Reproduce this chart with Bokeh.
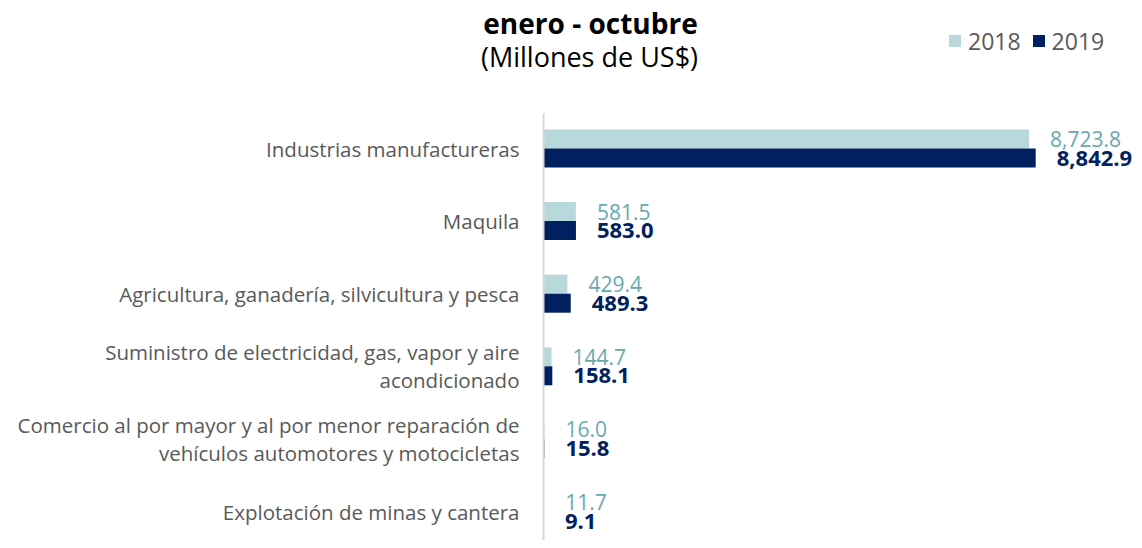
from bokeh.plotting import figure
from bokeh.models import ColumnDataSource, Range1d, FixedTicker, Legend, LegendItem, Label
from bokeh.transform import dodge
from bokeh.embed import file_html
from bokeh.resources import INLINE
from bokeh.core.properties import value

categories = [
    "Industrias manufactureras",
    "Maquila",
    "Agricultura, ganadería, silvicultura y pesca",
    "Suministro de electricidad, gas, vapor y aire\nacondicionado",
    "Comercio al por mayor y al por menor reparación de\nvehículos automotores y motocicletas",
    "Explotación de minas y cantera",
]
v2018 = [8723.8, 581.5, 429.4, 144.7, 16.0, 11.7]
v2019 = [8842.9, 583.0, 489.3, 158.1, 15.8, 9.1]
series_names = ["2018", "2019"]
title_text = "enero - octubre"
subtitle_text = "(Millones de US$)"

C18 = "#b9d8dc"
C19 = "#002060"
T18 = "#6aa8b0"
FONT = "Open Sans"

pos = list(range(len(categories) - 1, -1, -1))
src = ColumnDataSource(dict(
    y=pos, v18=v2018, v19=v2019,
    t18=[f"{v:,.1f}" for v in v2018],
    t19=[f"{v:,.1f}" for v in v2019],
))

Y_TOP = 7.0386
Y_BOT = -0.3994
X_MIN = -9756
X_MAX = 10618
p = figure(width=1134, height=540, output_backend="svg", toolbar_location=None,
           x_range=Range1d(X_MIN, X_MAX), y_range=Range1d(Y_BOT, Y_TOP),
           x_axis_location=None, min_border_left=0, min_border_right=0,
           min_border_top=0, min_border_bottom=0, outline_line_color=None)
p.grid.visible = False

off = 0.1309
bh = 0.2617
r18 = p.hbar(y=dodge("y", off, range=p.y_range), left=0, right="v18", height=bh,
             fill_color=C18, line_color=None, source=src)
r19 = p.hbar(y=dodge("y", -off, range=p.y_range), left=0, right="v19", height=bh,
             fill_color=C19, line_color=None, source=src)

p.text(x="v18", y=dodge("y", off, range=p.y_range), text="t18", source=src,
       x_offset=21, text_baseline="middle", text_align="left",
       text_font=value(FONT), text_font_size="21px", text_color=T18)
p.text(x="v19", y=dodge("y", -off, range=p.y_range), text="t19", source=src,
       x_offset=21, text_baseline="middle", text_align="left",
       text_font=value(FONT), text_font_size="22px", text_font_style="bold", text_color=C19)

ax = p.yaxis[0]
ax.fixed_location = 0
ax.ticker = FixedTicker(ticks=pos)
ax.bounds = (Y_BOT, 5.482)
ax.major_label_overrides = {pp: c for pp, c in zip(pos, categories)}
ax.major_tick_line_color = None
ax.minor_tick_line_color = None
ax.axis_line_color = "#d9d9d9"
ax.axis_line_width = 2
ax.major_label_text_font = FONT
ax.major_label_text_font_size = "20.5px"
ax.major_label_text_line_height = 1.0
ax.major_label_text_color = "#595959"
ax.major_label_standoff = 18

legend = Legend(items=[LegendItem(label=series_names[0], renderers=[r18]),
                       LegendItem(label=series_names[1], renderers=[r19])],
                location=(947, 483.2), orientation="horizontal",
                border_line_color=None, background_fill_alpha=0,
                padding=0, margin=0, spacing=10, glyph_width=15, glyph_height=15,
                label_standoff=6, label_height=22, label_text_font=FONT,
                label_text_font_size="23px", label_text_color="#595959")
p.add_layout(legend)

p.add_layout(Label(x=590, y=518, x_units="screen", y_units="screen", text=title_text,
                   text_align="center", text_baseline="middle", text_font=FONT,
                   text_font_size="28px", text_font_style="bold", text_color="black"))
p.add_layout(Label(x=589, y=484, x_units="screen", y_units="screen", text=subtitle_text,
                   text_align="center", text_baseline="middle", text_font=FONT,
                   text_font_size="27px", text_color="black"))

open("out.html", "w").write(file_html(p, INLINE))
